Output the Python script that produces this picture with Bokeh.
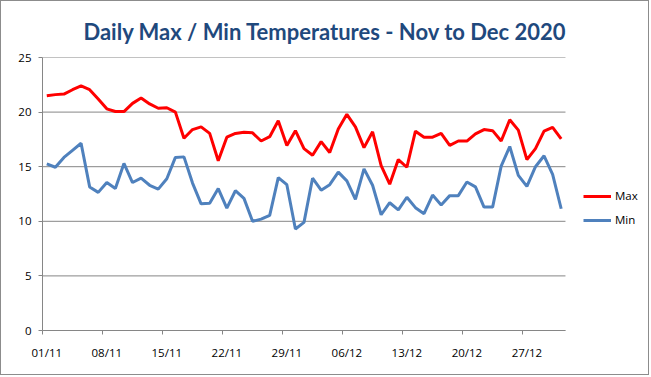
from bokeh.plotting import figure
from bokeh.models import Range1d, LinearAxis, FixedTicker, Legend, LegendItem
from bokeh.embed import file_html
from bokeh.resources import INLINE

days = list(range(61))
tick_days = [0, 7, 14, 21, 28, 35, 42, 49, 56]
tick_labels = ["01/11", "08/11", "15/11", "22/11", "29/11", "06/12", "13/12", "20/12", "27/12"]
y_ticks = [0, 5, 10, 15, 20, 25]

max_t = [21.5, 21.6, 21.65, 22.05, 22.4, 22.05, 21.2, 20.3, 20.05, 20.05, 20.8, 21.3, 20.75, 20.35, 20.4, 20.0,
         17.6, 18.4, 18.65, 18.05, 15.55, 17.7, 18.05,
         18.15, 18.1, 17.35, 17.75, 19.2, 16.95, 18.3, 16.65, 16.05, 17.3, 16.3, 18.45, 19.8, 18.65, 16.75, 18.2,
         15.1, 13.4, 15.65,
         14.95, 18.25, 17.7, 17.7, 18.05, 16.95, 17.35, 17.35, 18.0, 18.4, 18.3, 17.35, 19.3, 18.35, 15.65, 16.65,
         18.25, 18.6, 17.55]
min_t = [15.25, 14.95, 15.85, 16.5, 17.15, 13.15, 12.65, 13.55, 13.0, 15.3, 13.55, 13.95, 13.3, 12.95, 13.9, 15.85,
         15.9, 13.5, 11.6, 11.65, 13.0, 11.2, 12.8,
         12.1, 10.0, 10.2, 10.55, 14.0, 13.35, 9.3, 9.9, 13.95, 12.85, 13.35, 14.5, 13.7, 12.0, 14.8, 13.3, 10.6,
         11.7, 11.05,
         12.2, 11.25, 10.7, 12.4, 11.5, 12.35, 12.35, 13.6, 13.15, 11.3, 11.3, 15.05, 16.85, 14.2, 13.2, 15.0, 16.0,
         14.3, 11.15]

GRID = "#868686"
FONT = "Open Sans"

x_lo, x_hi = days[0] - 0.5, days[-1] + 0.5

# frame extends to the right edge so the legend (inside the frame) is not clipped
p = figure(width=649, height=375, output_backend="svg", toolbar_location=None,
           x_range=Range1d(x_lo, 70.3), y_range=Range1d(0, 25),
           x_axis_location=None, y_axis_location=None,
           min_border_left=41, min_border_right=1, min_border_top=56, min_border_bottom=46,
           title="Daily Max / Min Temperatures - Nov to Dec 2020")
p.styles = {"border": "1px solid #8c8c8c"}
p.outline_line_color = None
p.background_fill_color = "white"
p.border_fill_color = "white"

p.title.align = "left"
p.title.offset = 41
p.title.standoff = 26
p.title.text_font = "Lato"
p.title.text_font_size = "22px"
p.title.text_font_style = "bold"
p.title.text_color = "#1F497D"

# y axis
yax = LinearAxis(ticker=FixedTicker(ticks=y_ticks))
yax.axis_line_color = GRID
yax.major_tick_line_color = GRID
yax.major_tick_out = 4
yax.major_tick_in = 0
yax.minor_tick_line_color = None
yax.major_label_standoff = 7
yax.major_label_text_font = FONT
yax.major_label_text_font_size = "11.5px"
yax.major_label_text_color = "black"
p.add_layout(yax, "left")

# x axis: labels centred on days, tick marks (minor) on category boundaries
xax = LinearAxis(ticker=FixedTicker(ticks=tick_days, minor_ticks=[d - 0.5 for d in tick_days]),
                 major_label_overrides={d: l for d, l in zip(tick_days, tick_labels)},
                 bounds=(x_lo, x_hi))
xax.axis_line_color = GRID
xax.major_tick_line_color = None
xax.minor_tick_line_color = GRID
xax.minor_tick_out = 4
xax.minor_tick_in = 0
xax.major_tick_out = 4
xax.major_tick_in = 0
xax.major_label_standoff = 10
xax.major_label_text_font = FONT
xax.major_label_text_font_size = "11.5px"
xax.major_label_text_color = "black"
p.add_layout(xax, "below")

p.xgrid.grid_line_color = None
p.ygrid.grid_line_color = None
# horizontal gridlines limited to the plotted date span
p.segment(x0=[x_lo] * len(y_ticks), x1=[x_hi] * len(y_ticks), y0=y_ticks, y1=y_ticks,
          line_color=GRID, line_width=1)

r_max = p.line(days, max_t, line_color="#FF0000", line_width=3)
r_min = p.line(days, min_t, line_color="#4F81BD", line_width=3)

legend = Legend(items=[LegendItem(label="Max", renderers=[r_max]),
                       LegendItem(label="Min", renderers=[r_min])],
                location=(541, 103))
legend.padding = 0
legend.margin = 0
legend.spacing = 9
legend.glyph_width = 28
legend.glyph_height = 14
legend.label_height = 14
legend.label_standoff = 4
legend.border_line_color = None
legend.background_fill_alpha = 0
legend.label_text_font = FONT
legend.label_text_font_size = "11.5px"
legend.label_text_color = "black"
p.add_layout(legend, "center")

open("out.html", "w").write(file_html(p, INLINE))
